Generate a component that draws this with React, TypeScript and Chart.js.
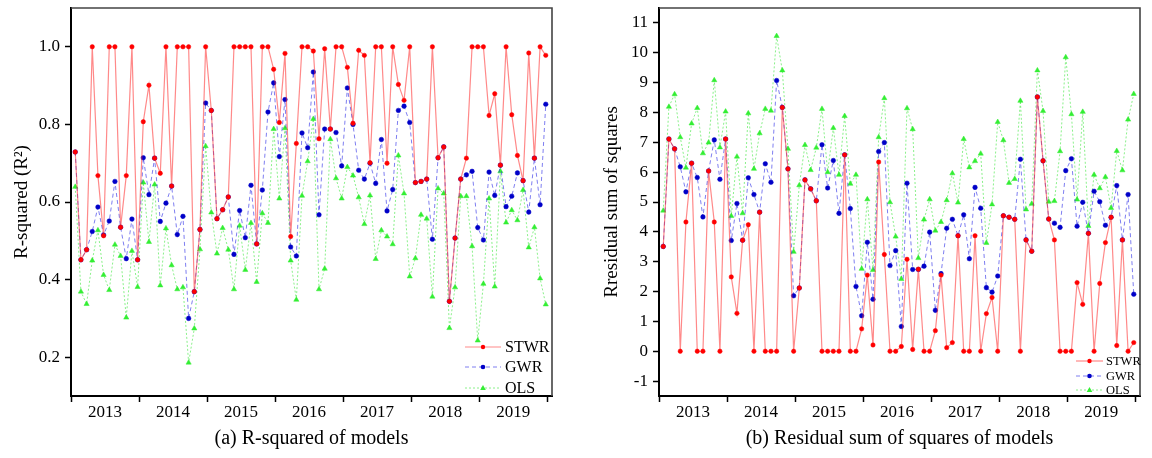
import React, { useEffect, useRef } from "react";
import { Chart, registerables } from "chart.js";
Chart.register(...registerables);

const YEARS = ["2013", "2014", "2015", "2016", "2017", "2018", "2019"];
const SERIES_NAMES = ["STWR", "GWR", "OLS"];

const R2_STWR = [0.729, 0.451, 0.477, 1.0, 0.668, 0.513, 1.0, 1.0, 0.535, 0.668, 1.0, 0.451,
  0.807, 0.901, 0.713, 0.674, 1.0, 0.641, 1.0, 1.0, 1.0, 0.369, 0.529, 1.0,
  0.836, 0.557, 0.58, 0.613, 1.0, 1.0, 1.0, 1.0, 0.492, 1.0, 1.0, 0.942,
  0.805, 0.983, 0.511, 0.751, 1.0, 1.0, 0.989, 0.763, 0.995, 0.788, 1.0, 1.0,
  0.947, 0.803, 0.991, 0.978, 0.701, 1.0, 1.0, 0.7, 1.0, 0.903, 0.862, 1.0,
  0.65, 0.653, 0.659, 1.0, 0.714, 0.742, 0.344, 0.507, 0.659, 0.713, 1.0, 1.0,
  1.0, 0.823, 0.879, 0.695, 1.0, 0.825, 0.72, 0.655, 0.984, 0.713, 1.0, 0.978];
const R2_GWR = [0.729, 0.451, 0.477, 0.524, 0.587, 0.515, 0.551, 0.653, 0.535, 0.454, 0.556, 0.451,
  0.714, 0.619, 0.713, 0.55, 0.597, 0.641, 0.516, 0.563, 0.3, 0.369, 0.529, 0.855,
  0.836, 0.557, 0.58, 0.613, 0.465, 0.578, 0.508, 0.643, 0.492, 0.631, 0.832, 0.907,
  0.717, 0.864, 0.484, 0.461, 0.778, 0.74, 0.935, 0.567, 0.788, 0.788, 0.779, 0.693,
  0.894, 0.8, 0.682, 0.659, 0.7, 0.648, 0.761, 0.577, 0.632, 0.836, 0.847, 0.805,
  0.65, 0.653, 0.659, 0.504, 0.714, 0.742, 0.344, 0.507, 0.659, 0.67, 0.679, 0.534,
  0.502, 0.677, 0.617, 0.695, 0.588, 0.615, 0.675, 0.655, 0.574, 0.713, 0.593, 0.852];
const R2_OLS = [0.639, 0.369, 0.337, 0.449, 0.527, 0.412, 0.373, 0.49, 0.461, 0.302, 0.474, 0.381,
  0.65, 0.497, 0.645, 0.385, 0.532, 0.437, 0.375, 0.38, 0.186, 0.274, 0.478, 0.744,
  0.573, 0.467, 0.533, 0.477, 0.375, 0.539, 0.425, 0.546, 0.394, 0.571, 0.546, 0.788,
  0.609, 0.79, 0.449, 0.348, 0.616, 0.705, 0.814, 0.375, 0.428, 0.762, 0.661, 0.609,
  0.69, 0.668, 0.612, 0.543, 0.617, 0.453, 0.527, 0.511, 0.491, 0.72, 0.622, 0.408,
  0.455, 0.567, 0.557, 0.356, 0.635, 0.622, 0.275, 0.38, 0.615, 0.615, 0.486, 0.243,
  0.389, 0.609, 0.382, 0.679, 0.547, 0.579, 0.553, 0.631, 0.483, 0.535, 0.403, 0.336];

const RSS_STWR = [3.51, 7.11, 6.78, 0, 4.33, 6.3, 0, 0, 6.04, 4.33, 0, 7.11,
  2.49, 1.27, 3.72, 4.24, 0, 4.66, 0, 0, 0, 8.17, 6.11, 0,
  2.12, 5.74, 5.44, 5.04, 0, 0, 0, 0, 6.58, 0, 0, 0.75,
  2.55, 0.21, 6.34, 3.24, 0, 0, 0.16, 3.08, 0.06, 2.75, 0, 0,
  0.69, 2.55, 0.12, 0.29, 3.87, 0, 0, 3.87, 0, 1.26, 1.8, 0,
  4.54, 4.49, 4.42, 0, 3.73, 3.35, 8.52, 6.38, 4.43, 3.73, 0, 0,
  0, 2.3, 1.57, 3.95, 0, 2.27, 3.64, 4.49, 0.19, 3.73, 0, 0.29];
const RSS_GWR = [3.51, 7.11, 6.78, 6.18, 5.34, 6.3, 5.82, 4.5, 6.04, 7.08, 5.76, 7.11,
  3.71, 4.95, 3.72, 5.81, 5.25, 4.66, 6.28, 5.66, 9.07, 8.17, 6.11, 1.86,
  2.12, 5.74, 5.44, 5.04, 6.92, 5.47, 6.39, 4.62, 6.58, 4.78, 2.17, 1.19,
  3.65, 1.74, 6.69, 6.99, 2.87, 3.37, 0.83, 5.63, 2.74, 2.74, 2.85, 3.99,
  1.37, 2.6, 4.12, 4.42, 3.87, 4.57, 3.1, 5.49, 4.79, 2.13, 1.98, 2.52,
  4.54, 4.49, 4.42, 6.43, 3.73, 3.35, 8.52, 6.38, 4.43, 4.29, 4.15, 6.05,
  6.45, 4.19, 4.99, 3.95, 5.36, 5.01, 4.22, 4.49, 5.55, 3.73, 5.25, 1.91];
const RSS_OLS = [4.71, 8.19, 8.61, 7.17, 6.15, 7.63, 8.15, 6.63, 6.99, 9.08, 6.83, 8.03,
  4.53, 6.52, 4.62, 7.97, 6.11, 7.3, 8.12, 8.06, 10.56, 9.41, 6.78, 3.33,
  5.56, 6.91, 6.07, 6.82, 8.12, 6.0, 7.48, 5.91, 7.88, 5.61, 5.91, 2.76,
  5.09, 2.72, 7.17, 8.48, 4.99, 3.84, 2.42, 8.14, 7.44, 3.12, 4.41, 5.09,
  4.04, 4.33, 5.06, 5.96, 4.98, 7.11, 6.16, 6.37, 6.62, 3.63, 4.92, 7.68,
  7.07, 5.64, 5.77, 8.39, 4.75, 4.94, 9.41, 8.05, 5.01, 5.03, 6.7, 9.85,
  7.94, 5.08, 8.02, 4.2, 5.91, 5.46, 5.84, 4.8, 6.71, 6.06, 7.76, 8.62];

const R2_TICKS = [0.2, 0.4, 0.6, 0.8, 1.0];
const RSS_TICKS = [-1, 0, 1, 2, 3, 4, 5, 6, 7, 8, 9, 10, 11];

const FONT = "'Liberation Serif', 'Times New Roman', serif";

const STYLES = [
  { line: "rgba(255,40,40,0.55)", point: "#ff0000", dash: [] as number[], shape: "circle", r: 2.2, w: 1.2 },
  { line: "rgba(40,40,230,0.6)", point: "#0000c8", dash: [4, 3], shape: "circle", r: 2.3, w: 1 },
  { line: "rgba(60,230,60,0.6)", point: "#33ee33", dash: [2, 2], shape: "triangle", r: 3, w: 1 },
];

type PanelCfg = {
  series: number[][];
  yMin: number;
  yMax: number;
  yTicks: number[];
  yFmt: (v: number) => string;
  yTitle: string;
  caption: string;
  yAxisWidth: number;
  padRight: number;
  yTitleX: number;
  legend: { lx0: number; lx1: number; tx: number; ys: number[]; font: number };
};

function makeChart(canvas: HTMLCanvasElement, p: PanelCfg) {
  const xTicks: number[] = [];
  for (let k = 0; k <= 7; k++) {
    xTicks.push(-0.75 + 12 * k);
    if (k < 7) xTicks.push(5.25 + 12 * k);
  }
  const datasets = p.series.map((s, si) => ({
    label: SERIES_NAMES[si],
    data: s.map((y, i) => ({ x: i, y })),
    borderColor: STYLES[si].line,
    borderWidth: STYLES[si].w,
    borderDash: STYLES[si].dash,
    pointStyle: STYLES[si].shape,
    pointRadius: STYLES[si].r,
    pointBackgroundColor: STYLES[si].point,
    pointBorderColor: STYLES[si].point,
    pointBorderWidth: 0.5,
    tension: 0,
    fill: false,
  }));

  const decor = {
    id: "decor",
    afterDraw(chart: any) {
      const ctx = chart.ctx;
      const a = chart.chartArea;
      ctx.save();
      ctx.strokeStyle = "#444";
      ctx.lineWidth = 1.6;
      ctx.beginPath();
      ctx.moveTo(a.left, a.top);
      ctx.lineTo(a.right, a.top);
      ctx.lineTo(a.right, a.bottom);
      ctx.stroke();
      ctx.fillStyle = "#000";
      ctx.font = `19px ${FONT}`;
      ctx.textAlign = "center";
      ctx.textBaseline = "middle";
      ctx.save();
      ctx.translate(p.yTitleX, (a.top + a.bottom) / 2);
      ctx.rotate(-Math.PI / 2);
      ctx.fillText(p.yTitle, 0, 0);
      ctx.restore();
      ctx.font = `20px ${FONT}`;
      ctx.fillText(p.caption, (a.left + a.right) / 2, 439);
      const L = p.legend;
      for (let i = 0; i < 3; i++) {
        const st = STYLES[i];
        const y = L.ys[i];
        ctx.strokeStyle = st.line;
        ctx.lineWidth = st.w;
        ctx.setLineDash(st.dash);
        ctx.beginPath();
        ctx.moveTo(L.lx0, y);
        ctx.lineTo(L.lx1, y);
        ctx.stroke();
        ctx.setLineDash([]);
        ctx.fillStyle = st.point;
        const cx = (L.lx0 + L.lx1) / 2;
        ctx.beginPath();
        if (st.shape === "triangle") {
          ctx.moveTo(cx, y - 3);
          ctx.lineTo(cx + 2.8, y + 2);
          ctx.lineTo(cx - 2.8, y + 2);
          ctx.closePath();
        } else {
          ctx.arc(cx, y, st.r, 0, Math.PI * 2);
        }
        ctx.fill();
        ctx.fillStyle = "#000";
        ctx.font = `${L.font}px ${FONT}`;
        ctx.textAlign = "left";
        ctx.textBaseline = "middle";
        ctx.fillText(SERIES_NAMES[i], L.tx, y + 1);
      }
      ctx.restore();
    },
  };

  return new Chart(canvas, {
    type: "line",
    data: { datasets },
    options: {
      animation: false,
      responsive: false,
      devicePixelRatio: 1,
      layout: { padding: { left: 0, right: p.padRight, top: 8, bottom: 0 } },
      plugins: { legend: { display: false }, tooltip: { enabled: false } },
      scales: {
        x: {
          type: "linear",
          min: -0.75,
          max: 84.1,
          afterBuildTicks: (s: any) => {
            s.ticks = xTicks.map((v) => ({ value: v }));
          },
          afterFit: (s: any) => {
            s.height = 62;
            s.paddingLeft = 0;
            s.paddingRight = 0;
          },
          border: { display: true, color: "#000", width: 2 },
          grid: {
            drawOnChartArea: false,
            drawTicks: true,
            tickLength: 6,
            tickWidth: 1.5,
            tickColor: (c: any) => (c.index % 2 === 0 ? "#000" : "rgba(0,0,0,0)"),
          },
          ticks: {
            autoSkip: false,
            maxRotation: 0,
            padding: 0,
            color: "#000",
            font: { family: FONT, size: 17 },
            callback: (_v: any, i: number) => (i % 2 === 1 ? YEARS[(i - 1) / 2] : ""),
          },
        },
        y: {
          type: "linear",
          min: p.yMin,
          max: p.yMax,
          afterBuildTicks: (s: any) => {
            s.ticks = p.yTicks.map((v) => ({ value: v }));
          },
          afterFit: (s: any) => {
            s.width = p.yAxisWidth;
            s.paddingTop = 0;
            s.paddingBottom = 0;
          },
          border: { display: true, color: "#000", width: 2 },
          grid: {
            drawOnChartArea: false,
            drawTicks: true,
            tickLength: 6,
            tickWidth: 1.5,
            tickColor: "#000",
          },
          ticks: {
            padding: 5,
            color: "#000",
            font: { family: FONT, size: 17 },
            callback: (v: any) => p.yFmt(Number(v)),
          },
        },
      },
    },
    plugins: [decor],
  } as any);
}

function Panel({ cfg, left }: { cfg: PanelCfg; left: number }) {
  const ref = useRef<HTMLCanvasElement>(null);
  useEffect(() => {
    if (!ref.current) return;
    const ch = makeChart(ref.current, cfg);
    return () => ch.destroy();
  }, []);
  return (
    <canvas
      ref={ref}
      width={576}
      height={458}
      style={{ position: "absolute", left, top: 0, width: 576, height: 458 }}
    />
  );
}

const LEFT: PanelCfg = {
  series: [R2_STWR, R2_GWR, R2_OLS],
  yMin: 0.1,
  yMax: 1.1,
  yTicks: R2_TICKS,
  yFmt: (v) => v.toFixed(1),
  yTitle: "R-squared (R\u00b2)",
  caption: "(a) R-squared of models",
  yAxisWidth: 71,
  padRight: 24,
  yTitleX: 22,
  legend: { lx0: 465, lx1: 501, tx: 505, ys: [347, 367, 388], font: 16 },
};

const RIGHT: PanelCfg = {
  series: [RSS_STWR, RSS_GWR, RSS_OLS],
  yMin: -1.5,
  yMax: 11.5,
  yTicks: RSS_TICKS,
  yFmt: (v) => String(Math.round(v)),
  yTitle: "Rresidual sum of squares",
  caption: "(b) Residual sum of squares of models",
  yAxisWidth: 83,
  padRight: 12,
  yTitleX: 36,
  legend: { lx0: 500, lx1: 527, tx: 530, ys: [361, 376, 390], font: 12.5 },
};

export default function App() {
  return (
    <div style={{ position: "absolute", left: 0, top: 0, width: 1152, height: 458, background: "#fff" }}>
      <Panel cfg={LEFT} left={0} />
      <Panel cfg={RIGHT} left={576} />
    </div>
  );
}
